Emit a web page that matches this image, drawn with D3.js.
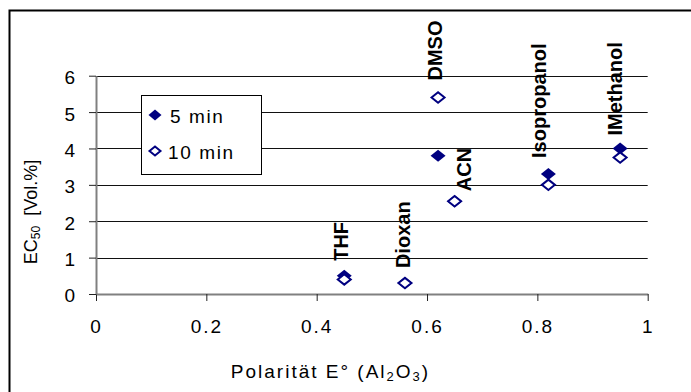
<!DOCTYPE html>
<html>
<head>
<meta charset="utf-8">
<script src="https://cdn.jsdelivr.net/npm/d3@7"></script>
<style>
  html, body { margin: 0; padding: 0; background: #fff; }
  svg { display: block; font-family: Arial, "Liberation Sans", sans-serif; }
  text { white-space: pre; }
</style>
</head>
<body>
<svg id="chart" width="691" height="392"></svg>
<script>
// Solvents, their eluotropic strength on alumina and the EC50 after 5 and 10 minutes
const solvents   = ["THF", "Dioxan", "DMSO", "ACN", "Isopropanol", "IMethanol"];
const polarity   = [0.45, 0.56, 0.62, 0.65, 0.82, 0.95];
const ec50_5min  = [0.5, 0.3, 3.8, 2.55, 3.3, 4.0];
const ec50_10min = [0.4, 0.3, 5.4, 2.55, 3.0, 3.75];
const seriesNames = ["5 min", "10 min"];
const xTicks = [0, 0.2, 0.4, 0.6, 0.8, 1];
const yTicks = [0, 1, 2, 3, 4, 5, 6];

// pixel nudges for the rotated solvent labels (dx, dy from the upper marker)
const labelNudge = [[-3, -15], [-2, -15], [-3, -17], [9, -10], [-10, -16], [-5, -13]];

const navy = "#000080";
const svg = d3.select("#chart");

const plot = { left: 96, right: 647.7, top: 75.7, bottom: 294 };
const x = d3.scaleLinear().domain([0, 1]).range([plot.left, plot.right]);
const y = d3.scaleLinear().domain([0, 6]).range([plot.bottom, plot.top]);

// outer chart frame
svg.append("rect")
  .attr("x", 9.5).attr("y", 10.5)
  .attr("width", 700).attr("height", 400)
  .attr("fill", "none").attr("stroke", "#000").attr("stroke-width", 2);

// horizontal gridlines
svg.append("g").selectAll("line")
  .data(yTicks.filter(d => d > 0))
  .join("line")
  .attr("x1", plot.left).attr("x2", plot.right)
  .attr("y1", d => Math.round(y(d)) + 0.5).attr("y2", d => Math.round(y(d)) + 0.5)
  .attr("stroke", "#111").attr("stroke-width", 1);

// axes
const xAxis = svg.append("g")
  .attr("transform", `translate(0,${plot.bottom})`)
  .call(d3.axisBottom(x).tickValues(xTicks).tickFormat(d => String(d))
    .tickSize(7).tickSizeOuter(0).tickPadding(19));
const yAxis = svg.append("g")
  .attr("transform", `translate(${plot.left},0)`)
  .call(d3.axisLeft(y).tickValues(yTicks).tickFormat(d => String(d))
    .tickSize(7).tickSizeOuter(0).tickPadding(14));

[xAxis, yAxis].forEach(g => {
  g.select(".domain").attr("stroke", "#808080").attr("stroke-width", 2);
  g.selectAll(".tick line").attr("stroke", "#222").attr("stroke-width", 1);
  g.selectAll(".tick text")
    .attr("fill", "#000")
    .style("font-size", "19px")
    .style("font-family", "Arial, 'Liberation Sans', sans-serif");
});
xAxis.selectAll(".tick text").style("letter-spacing", "2px");
yAxis.selectAll(".tick text").attr("dy", "0.42em");

// diamond marker path
const diamond = (hw, hh) => `M0,${-hh}L${hw},0L0,${hh}L${-hw},0Z`;

// series: 5 min (filled), then 10 min (open) on top
const rows = solvents.map((s, i) => ({ s, p: polarity[i], a: ec50_5min[i], b: ec50_10min[i] }));

svg.append("g").selectAll("path")
  .data(rows)
  .join("path")
  .attr("transform", d => `translate(${x(d.p)},${y(d.a)})`)
  .attr("d", diamond(7.5, 6))
  .attr("fill", navy);

svg.append("g").selectAll("path")
  .data(rows)
  .join("path")
  .attr("transform", d => `translate(${x(d.p)},${y(d.b)})`)
  .attr("d", diamond(6.5, 5.2))
  .attr("fill", "#fff").attr("stroke", navy).attr("stroke-width", 2);

// rotated solvent labels above each pair
svg.append("g").selectAll("text")
  .data(rows)
  .join("text")
  .attr("transform", (d, i) => {
    const px = x(d.p) + labelNudge[i][0];
    const py = y(Math.max(d.a, d.b)) + labelNudge[i][1];
    return `translate(${px},${py}) rotate(-90)`;
  })
  .attr("dy", "0.36em")
  .attr("text-anchor", "start")
  .style("font-size", "20px")
  .style("font-weight", "bold")
  .attr("fill", "#000")
  .text(d => d.s);

// legend
const legend = svg.append("g");
legend.append("rect")
  .attr("x", 141.5).attr("y", 95.5).attr("width", 120).attr("height", 79)
  .attr("fill", "#fff").attr("stroke", "#000").attr("stroke-width", 1);
const legendY = [115, 151];
legend.append("path")
  .attr("transform", `translate(155,${legendY[0]})`)
  .attr("d", diamond(6.5, 5.5)).attr("fill", navy);
legend.append("path")
  .attr("transform", `translate(155,${legendY[1]})`)
  .attr("d", diamond(5.5, 4.5)).attr("fill", "#fff").attr("stroke", navy).attr("stroke-width", 2);
legend.selectAll("text")
  .data(seriesNames)
  .join("text")
  .attr("x", (d, i) => i === 0 ? 170 : 168)
  .attr("y", (d, i) => legendY[i] + 7.5)
  .style("font-size", "19px")
  .style("letter-spacing", "1.6px")
  .attr("fill", "#000")
  .text(d => d);

// axis titles
const xTitle = svg.append("text")
  .attr("x", 330.5).attr("y", 378)
  .attr("text-anchor", "middle")
  .style("font-size", "19px")
  .style("letter-spacing", "2px")
  .attr("fill", "#000");
xTitle.append("tspan").text("Polarität E° (Al");
xTitle.append("tspan").attr("baseline-shift", "-3").style("font-size", "13px").text("2");
xTitle.append("tspan").text("O");
xTitle.append("tspan").attr("baseline-shift", "-3").style("font-size", "13px").text("3");
xTitle.append("tspan").text(")");

const yTitle = svg.append("text")
  .attr("transform", "translate(36.5,212) rotate(-90)")
  .attr("text-anchor", "middle")
  .style("font-size", "18px")
  .attr("fill", "#000");
yTitle.append("tspan").text("EC");
yTitle.append("tspan").attr("baseline-shift", "-3").style("font-size", "12px").text("50");
yTitle.append("tspan").text("  [Vol.%]");
</script>
</body>
</html>
